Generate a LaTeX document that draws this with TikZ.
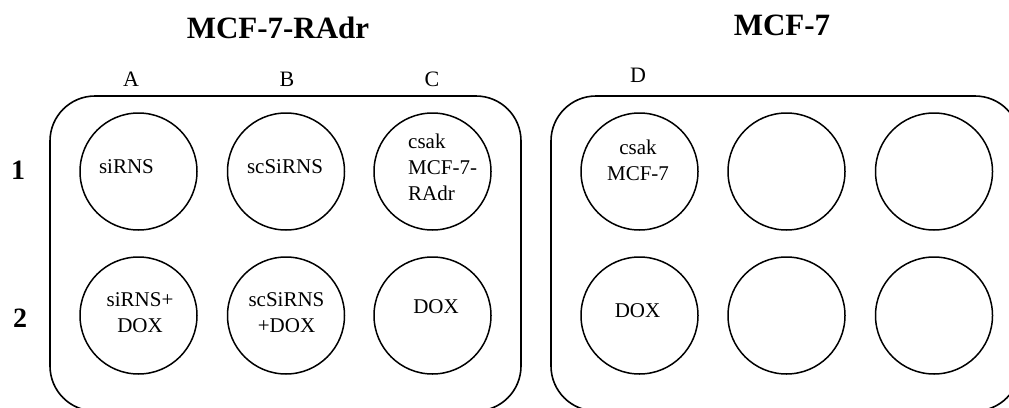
\documentclass[tikz,border=0pt]{standalone}
\usepackage{fontspec}
\setmainfont{Liberation Serif}
\begin{document}
\begin{tikzpicture}[x=1pt,y=-1pt,
  plate/.style={draw,line width=1.6pt,rounded corners=45pt},
  well/.style={draw,circle,line width=1.5pt,minimum size=117pt,inner sep=0pt},
  welltext/.style={font=\fontsize{21}{26}\selectfont,align=center,inner sep=0pt,anchor=base},
  title/.style={font=\fontsize{31}{36}\selectfont\bfseries,inner sep=0pt,anchor=base},
  collabel/.style={font=\fontsize{22}{26}\selectfont,inner sep=0pt,anchor=base},
  rowlabel/.style={font=\fontsize{28}{32}\selectfont\bfseries,inner sep=0pt,anchor=base}]
\useasboundingbox (0,0) rectangle (1009,407);

% titles
\node[title] (t1) at (278,38) {MCF-7-RAdr};
\node[title] (t2) at (782,35) {MCF-7};

% column and row labels
\node[collabel] (cA) at (131,86) {A};
\node[collabel] (cB) at (287,86) {B};
\node[collabel] (cC) at (432,86) {C};
\node[collabel] (cD) at (638,82) {D};
\node[rowlabel] (r1) at (18,179) {1};
\node[rowlabel] (r2) at (20,327) {2};

% plates (their lower edge runs just below the page)
\draw[plate] (50,96) rectangle (521,411);
\draw[plate] (551,96) rectangle (1020,411);

% wells, row 1
\node[well] (a1) at (138.5,171.5) {};
\node[well] (b1) at (286,171.5) {};
\node[well] (c1) at (432.5,171.5) {};
\node[well] (d1) at (639.5,171.5) {};
\node[well] (e1) at (786.5,171.5) {};
\node[well] (f1) at (934,171.5) {};
% wells, row 2
\node[well] (a2) at (138.5,315.5) {};
\node[well] (b2) at (286,315.5) {};
\node[well] (c2) at (432.5,315.5) {};
\node[well] (d2) at (639.5,315.5) {};
\node[well] (e2) at (786.5,315.5) {};
\node[well] (f2) at (934,315.5) {};

% well contents (base anchor sits on the last line)
\node[welltext] (la1) at (126.5,173) {siRNS};
\node[welltext] (lb1) at (285,173) {scSiRNS};
\node[welltext,align=left,anchor=base west] (lc1) at (408,200) {csak\\MCF-7-\\RAdr};
\node[welltext] (ld1) at (638,180) {csak\\MCF-7};
\node[welltext] (la2) at (140,332) {siRNS+\\DOX};
\node[welltext] (lb2) at (286.5,332) {scSiRNS\\+DOX};
\node[welltext] (lc2) at (436,313) {DOX};
\node[welltext] (ld2) at (637.5,317) {DOX};
\end{tikzpicture}
\end{document}
